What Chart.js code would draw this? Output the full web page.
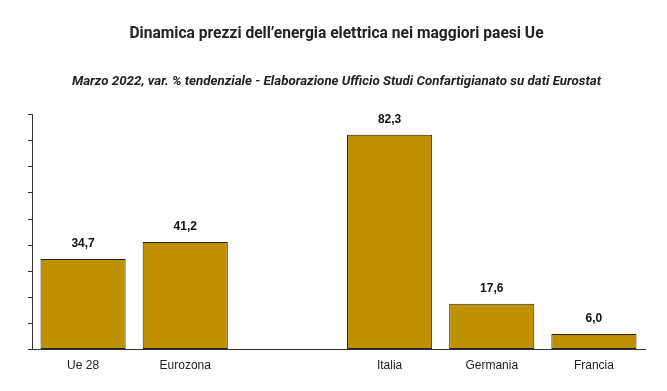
<!DOCTYPE html>
<html lang="it">
<head>
  <meta charset="UTF-8" />
  <title>Dinamica prezzi dell'energia elettrica</title>
  <script src="https://cdn.jsdelivr.net/npm/chart.js"></script>
  <style>
    html, body { margin: 0; padding: 0; background: #fff; }
    #wrap { width: 667px; height: 391px; }
  </style>
</head>
<body>
<div id="wrap"><canvas id="chart"></canvas></div>
<script>
const categories = ['Ue 28', 'Eurozona', '', 'Italia', 'Germania', 'Francia'];
const values = [34.7, 41.2, null, 82.3, 17.6, 6.0];

// etichette con la virgola decimale
const valueLabels = {
  id: 'valueLabels',
  afterDatasetsDraw(chart) {
    const ctx = chart.ctx;
    const meta = chart.getDatasetMeta(0);
    ctx.save();
    ctx.font = 'bold 12px "Liberation Sans Narrow", "Liberation Sans", Arial';
    ctx.fillStyle = '#111';
    ctx.textAlign = 'center';
    ctx.textBaseline = 'middle';
    meta.data.forEach((bar, i) => {
      if (values[i] == null) return;
      ctx.fillText(values[i].toFixed(1).replace('.', ','), bar.x, bar.y - 15);
    });
    ctx.restore();
  }
};

new Chart(document.getElementById('chart'), {
  type: 'bar',
  data: {
    labels: categories,
    datasets: [{
      data: values,
      backgroundColor: '#C09000',
      borderColor: '#222',
      borderWidth: 1,
      borderSkipped: false,
      categoryPercentage: 0.833,
      barPercentage: 1
    }]
  },
  options: {
    responsive: true,
    maintainAspectRatio: false,
    animation: false,
    layout: { padding: { left: 28, right: 22, bottom: 17 } },
    plugins: {
      legend: { display: false },
      tooltip: { enabled: false },
      title: {
        display: true,
        text: 'Dinamica prezzi dell\u2019energia elettrica nei maggiori paesi Ue',
        color: '#222',
        font: { family: 'Roboto', size: 15.6, weight: 'bold' },
        padding: { top: 25, bottom: 30 }
      },
      subtitle: {
        display: true,
        text: 'Marzo 2022, var. % tendenziale - Elaborazione Ufficio Studi Confartigianato su dati Eurostat',
        color: '#222',
        font: { family: 'Roboto', size: 13.3, style: 'italic', weight: 'bold' },
        padding: { bottom: 25 }
      }
    },
    scales: {
      x: {
        grid: { display: false },
        border: { display: true, color: '#333' },
        ticks: {
          color: '#222',
          font: { family: 'Liberation Sans', size: 12 },
          padding: 1
        }
      },
      y: {
        min: 0,
        max: 90,
        ticks: { stepSize: 10, display: false },
        grid: { drawOnChartArea: false, drawTicks: true, tickLength: 4, color: '#333' },
        border: { display: true, color: '#333' }
      }
    }
  },
  plugins: [valueLabels]
});
</script>
</body>
</html>
